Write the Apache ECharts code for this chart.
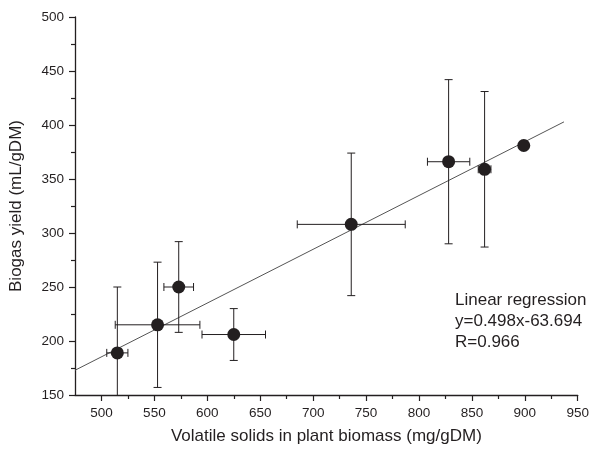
<!DOCTYPE html>
<html>
<head>
<meta charset="utf-8">
<script src="https://cdn.jsdelivr.net/npm/echarts@6/dist/echarts.min.js"></script>
<style>html,body{margin:0;padding:0;background:#fff}#c{width:592px;height:450px}</style>
</head>
<body>
<div id="c"></div>
<script>
// Data
const xValues = [515, 553, 573, 625, 736, 828, 862, 899];
const yValues = [189, 215, 250, 206, 308, 366, 359, 381];
const xErrors = [10, 40, 14, 30, 51, 20, 6, 2];
const yErrors = [61, 58, 42, 24, 66, 76, 72, 3];
const regressionX = [475, 937];
const regressionY = [172.9, 402.9];
const xMajorTicks = [500, 550, 600, 650, 700, 750, 800, 850, 900, 950];
const xMinorTicks = [525, 575, 625, 675, 725, 775, 825, 875, 925];
const annotationLines = ['Linear regression', 'y=0.498x-63.694', 'R=0.966'];

const FONT = '"Liberation Sans", Arial, sans-serif';
const INK = '#231f20';

const points = xValues.map((x, i) => [x, yValues[i]]);
const errData = xValues.map((x, i) => [x, yValues[i], xErrors[i], yErrors[i]]);
const regLine = regressionX.map((x, i) => [x, regressionY[i]]);

const chart = echarts.init(document.getElementById('c'), null, {renderer: 'canvas'});
chart.setOption({
  animation: false,
  backgroundColor: '#fff',
  textStyle: {fontFamily: FONT},
  grid: {left: 75, right: 13, top: 17, bottom: 53, containLabel: false},
  xAxis: [{
    type: 'value', min: 475, max: 950, position: 'bottom',
    name: 'Volatile solids in plant biomass (mg/gDM)',
    nameLocation: 'middle', nameGap: 33,
    nameTextStyle: {fontSize: 17, color: INK, fontFamily: FONT},
    axisLine: {show: true, onZero: false, lineStyle: {color: INK, width: 1.3}},
    axisTick: {show: true, inside: false, length: 6, customValues: xMajorTicks, lineStyle: {color: INK, width: 1.2}},
    axisLabel: {show: true, margin: 11, fontSize: 13.5, color: INK, fontFamily: FONT, customValues: xMajorTicks},
    splitLine: {show: false}
  }, {
    type: 'value', min: 475, max: 950, position: 'bottom', offset: 0,
    axisLine: {show: false, onZero: false},
    axisTick: {show: true, inside: false, length: 4, customValues: xMinorTicks, lineStyle: {color: INK, width: 1.2}},
    axisLabel: {show: false},
    splitLine: {show: false}
  }],
  yAxis: {
    type: 'value', min: 150, max: 500, interval: 50,
    name: 'Biogas yield (mL/gDM)',
    nameLocation: 'middle', nameGap: 50, nameRotate: 90,
    nameTextStyle: {fontSize: 17, color: INK, fontFamily: FONT},
    axisLine: {show: true, onZero: false, lineStyle: {color: INK, width: 1.3}},
    axisTick: {show: true, inside: false, length: 6, lineStyle: {color: INK, width: 1.2}},
    minorTick: {show: true, splitNumber: 2, length: 4, lineStyle: {color: INK, width: 1.2}},
    axisLabel: {show: true, margin: 11, fontSize: 13.5, color: INK, fontFamily: FONT},
    splitLine: {show: false},
    minorSplitLine: {show: false}
  },
  series: [{
    type: 'line',
    data: regLine,
    showSymbol: false,
    symbol: 'none',
    lineStyle: {color: '#555', width: 1},
    silent: true,
    z: 1
  }, {
    type: 'custom',
    data: errData,
    z: 2,
    renderItem: function (params, api) {
      const x = api.value(0), y = api.value(1), ex = api.value(2), ey = api.value(3);
      const cs = params.coordSys;
      const top = cs.y, bottom = cs.y + cs.height;
      const c = api.coord([x, y]);
      const l = api.coord([x - ex, y]);
      const r = api.coord([x + ex, y]);
      const t = api.coord([x, y + ey]);
      const b = api.coord([x, y - ey]);
      const cap = 4;
      const style = {stroke: INK, lineWidth: 1};
      const children = [];
      const ty = Math.max(top, t[1]);
      const by = Math.min(bottom, b[1]);
      children.push({type: 'line', shape: {x1: c[0], y1: ty, x2: c[0], y2: by}, style: style});
      if (t[1] >= top) children.push({type: 'line', shape: {x1: c[0] - cap, y1: t[1], x2: c[0] + cap, y2: t[1]}, style: style});
      if (b[1] <= bottom) children.push({type: 'line', shape: {x1: c[0] - cap, y1: b[1], x2: c[0] + cap, y2: b[1]}, style: style});
      children.push({type: 'line', shape: {x1: l[0], y1: c[1], x2: r[0], y2: c[1]}, style: style});
      children.push({type: 'line', shape: {x1: l[0], y1: c[1] - cap, x2: l[0], y2: c[1] + cap}, style: style});
      children.push({type: 'line', shape: {x1: r[0], y1: c[1] - cap, x2: r[0], y2: c[1] + cap}, style: style});
      return {type: 'group', children: children};
    }
  }, {
    type: 'scatter',
    data: points,
    symbol: 'circle',
    symbolSize: 13,
    itemStyle: {color: INK, opacity: 1},
    z: 3
  }],
  graphic: [{
    type: 'text',
    left: 455,
    top: 290,
    style: {
      text: annotationLines.join('\n'),
      font: '17px ' + FONT,
      fill: INK,
      lineHeight: 21
    }
  }]
});
</script>
</body>
</html>
